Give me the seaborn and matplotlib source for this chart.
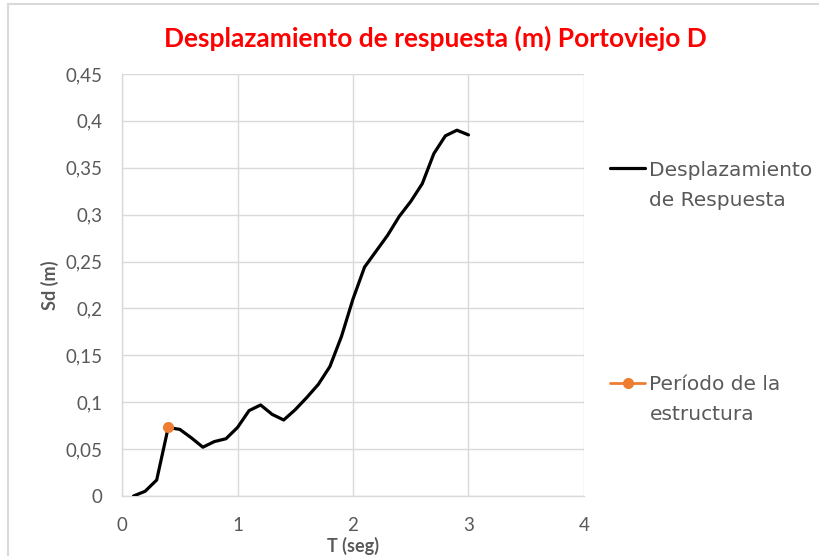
import matplotlib
matplotlib.use("Agg")
import matplotlib.pyplot as plt
from matplotlib.ticker import FuncFormatter, MultipleLocator
from matplotlib.lines import Line2D
from matplotlib.patches import Rectangle
from matplotlib.legend_handler import HandlerLine2D
from matplotlib.transforms import Affine2D
import seaborn as sns
import pandas as pd

# Response spectrum: period T (s) vs spectral displacement Sd (m)
periodo = [0.1, 0.2, 0.3, 0.4, 0.5, 0.6, 0.7, 0.8, 0.9, 1.0,
           1.1, 1.2, 1.3, 1.4, 1.5, 1.6, 1.7, 1.8, 1.9, 2.0,
           2.1, 2.2, 2.3, 2.4, 2.5, 2.6, 2.7, 2.8, 2.9, 3.0]
desplazamiento = [0.000, 0.005, 0.017, 0.073, 0.071, 0.062, 0.052, 0.058, 0.061, 0.073,
                  0.091, 0.097, 0.087, 0.081, 0.092, 0.105, 0.119, 0.138, 0.170, 0.210,
                  0.244, 0.261, 0.278, 0.298, 0.314, 0.333, 0.365, 0.384, 0.390, 0.385]

# Fundamental period of the structure
periodo_estructura = [0.4]
sd_estructura = [0.0735]

titulo = "Desplazamiento de respuesta (m) Portoviejo D"
etiquetas = ["Desplazamiento\nde Respuesta", "Período de la\nestructura"]

sns.set_theme(style="white")
plt.rcParams["font.family"] = ["Lato", "DejaVu Sans"]

gris = "#595959"
naranja = "#ED7D31"


class HandlerPrimeraLinea(HandlerLine2D):
    """Legend line drawn level with the first line of a two-line label."""

    def __init__(self, dy, **kw):
        super().__init__(**kw)
        self.dy = dy

    def create_artists(self, legend, orig_handle, xdescent, ydescent,
                       width, height, fontsize, trans):
        trans = Affine2D().translate(0, self.dy) + trans
        return super().create_artists(legend, orig_handle, xdescent, ydescent,
                                      width, height, fontsize, trans)


fig = plt.figure(figsize=(8.19, 5.56), dpi=100)
ax = fig.add_axes([0.149, 0.108, 0.564, 0.759])

df = pd.DataFrame({"T": periodo, "Sd": desplazamiento})
sns.lineplot(data=df, x="T", y="Sd", ax=ax, color="black", linewidth=2.3, zorder=3)
sns.lineplot(x=periodo_estructura, y=sd_estructura, ax=ax, color=naranja,
             marker="o", markersize=8, markeredgewidth=0, linewidth=2, zorder=4)

ax.set_xlim(0, 4)
ax.set_ylim(0, 0.45)
ax.xaxis.set_major_locator(MultipleLocator(1))
ax.yaxis.set_major_locator(MultipleLocator(0.05))
coma = FuncFormatter(lambda v, p: f"{v:.2f}".rstrip("0").rstrip(".").replace(".", ","))
ax.yaxis.set_major_formatter(coma)
ax.xaxis.set_major_formatter(FuncFormatter(lambda v, p: f"{v:g}"))

ax.grid(True, color="#d9d9d9", linewidth=1)
for lado in ["top", "right"]:
    ax.spines[lado].set_visible(False)
for lado in ["left", "bottom"]:
    ax.spines[lado].set_color("#d9d9d9")
    ax.spines[lado].set_linewidth(1)

ax.tick_params(axis="both", colors=gris, labelsize=13.5, length=0)
ax.tick_params(axis="y", pad=14)
ax.tick_params(axis="x", pad=15)
ax.set_xlabel("T (seg)", fontsize=13, fontweight="bold", color=gris, labelpad=2)
ax.set_ylabel("Sd (m)", fontsize=13, fontweight="bold", color=gris, labelpad=5)

fig.text(0.531, 0.931, titulo, ha="center", va="center", color="red",
         fontsize=19, fontweight="bold")

manejadores = [
    Line2D([0], [0], color="black", linewidth=2.3),
    Line2D([0], [0], color=naranja, linewidth=2, marker="o", markersize=8,
           markeredgewidth=0),
]
leyenda = fig.legend(manejadores, etiquetas, loc="upper left",
                     bbox_to_anchor=(0.745, 0.711), borderaxespad=0, borderpad=0,
                     frameon=False, labelspacing=8.2, handlelength=1.75,
                     handletextpad=0.2,
                     handler_map={Line2D: HandlerPrimeraLinea(dy=12.6)},
                     prop={"family": "DejaVu Sans", "size": 14.5}, labelcolor=gris)
for t in leyenda.get_texts():
    t.set_linespacing(1.75)

# chart area border
fig.patches.append(Rectangle((8 / 819, -0.1), 1.2, 1.1 - 4 / 556,
                             transform=fig.transFigure, fill=False,
                             edgecolor="#d9d9d9", linewidth=1.5))

fig.savefig("out.png", dpi=100)
